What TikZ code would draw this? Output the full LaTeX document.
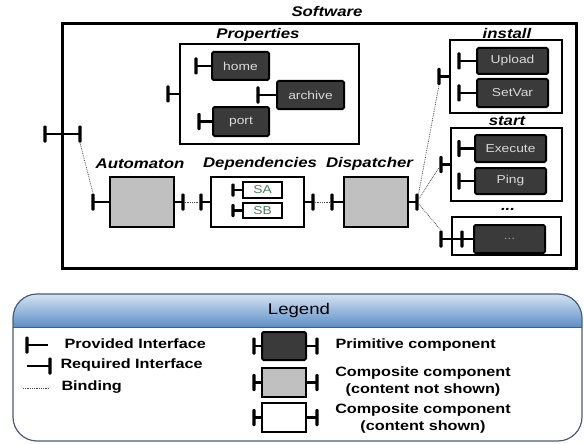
\documentclass[tikz,border=0pt]{standalone}
\usepackage{fontspec}
\setmainfont{Liberation Sans}[FakeStretch=1.2]

\definecolor{primfill}{HTML}{3A3A3A}
\definecolor{compgray}{HTML}{C0C0C0}
\definecolor{reqgreen}{HTML}{4E7D5F}
\definecolor{legline}{HTML}{4B5B78}
\definecolor{legtop}{HTML}{D4E3F2}
\definecolor{legbot}{HTML}{5C8FC6}

\begin{document}
\begin{tikzpicture}[x=1pt, y=-1pt,
    prim/.style={draw=black, fill=primfill, line width=2pt, rounded corners=1.5pt, inner sep=0pt,
      text=white!85!black, font=\fontsize{11.5}{13}\selectfont},
    comp/.style={draw=black, fill=compgray, line width=2.2pt, inner sep=0pt},
    open/.style={draw=black, fill=white, line width=2.2pt, inner sep=0pt},
    reqbox/.style={draw=black, fill=white, line width=1.6pt, inner sep=0pt,
      text=reqgreen, font=\fontsize{11.5}{13}\selectfont},
    bar/.style={fill=black, inner sep=0pt, minimum width=3.2pt, minimum height=17pt, rounded corners=1pt},
    smallbar/.style={bar, minimum height=13pt},
    stem/.style={line width=2.5pt},
    binding/.style={densely dotted, line width=0.8pt, draw=black!70},
    title/.style={font=\fontsize{14}{16}\selectfont\bfseries\itshape},
    legtext/.style={font=\fontsize{13.5}{17}\selectfont\bfseries, align=center}]
    \useasboundingbox (0,0) rectangle (584,444);

    % Software
    \node[open, line width=3pt, minimum width=514pt, minimum height=244pt] (sw) at (319,146) {};
    \node[title] (sw-l) at (327,11) {Software};
    \node[bar] (sw-p) at (45,134) {};
    \node[bar] (sw-r) at (80,134) {};
    \draw[stem] (sw-p.center) -- (sw-r.center);

    % Properties
    \node[open, minimum width=179pt, minimum height=100pt] (prop) at (269.5,94) {};
    \node[title] (prop-l) at (258,35) {Properties};
    \node[bar] (prop-p) at (168,94) {};
    \draw[stem] (prop-p.center) -- (prop.west);
    \node[prim, minimum width=57pt, minimum height=28pt] (home) at (240.5,66) {home};
    \node[bar] (home-p) at (196,66) {};
    \draw[stem] (home-p.center) -- (home.west);
    \node[prim, minimum width=67pt, minimum height=28pt] (arch) at (310.5,95) {archive};
    \node[bar] (arch-p) at (258,95) {};
    \draw[stem] (arch-p.center) -- (arch.west);
    \node[prim, minimum width=56pt, minimum height=29pt] (port) at (241,121.5) {port};
    \node[bar] (port-p) at (199,121.5) {};
    \draw[stem] (port-p.center) -- (port.west);

    % install
    \node[open, minimum width=112pt, minimum height=73pt] (inst) at (506,76.5) {};
    \node[title] (inst-l) at (507,33) {install};
    \node[bar] (inst-p) at (439,76.5) {};
    \draw[stem] (inst-p.center) -- (inst.west);
    \node[prim, minimum width=71pt, minimum height=26pt] (upl) at (512.5,61) {Upload};
    \node[bar] (upl-p) at (459,61) {};
    \draw[stem] (upl-p.center) -- (upl.west);
    \node[prim, minimum width=71pt, minimum height=28pt] (setv) at (512.5,93) {SetVar};
    \node[bar] (setv-p) at (459,93) {};
    \draw[stem] (setv-p.center) -- (setv.west);

    % start
    \node[open, minimum width=111pt, minimum height=73pt] (start) at (506.5,164.5) {};
    \node[title] (start-l) at (507,121) {start};
    \node[bar] (start-p) at (441,164.5) {};
    \draw[stem] (start-p.center) -- (start.west);
    \node[prim, minimum width=71pt, minimum height=27pt] (exec) at (510.5,148.5) {Execute};
    \node[bar] (exec-p) at (459,148.5) {};
    \draw[stem] (exec-p.center) -- (exec.west);
    \node[prim, minimum width=71pt, minimum height=26pt] (ping) at (510.5,181) {Ping};
    \node[bar] (ping-p) at (459,181) {};
    \draw[stem] (ping-p.center) -- (ping.west);

    % further ones
    \node[title] (more-l) at (508,209) {...};
    \node[open, minimum width=109pt, minimum height=38pt] (more) at (506.5,236) {};
    \node[prim, minimum width=71pt, minimum height=28pt, text=white!60!black] (dots) at (509.5,239) {...};
    \node[bar] (more-p) at (441,239) {};
    \node[bar] (dots-p) at (462,239) {};
    \draw[stem] (more-p.center) -- (dots-p.center);
    \draw[stem] (dots-p.center) -- (dots.west);

    % Automaton
    \node[comp, minimum width=64pt, minimum height=50pt] (aut) at (142,202) {};
    \node[title] (aut-l) at (140,164) {Automaton};
    \node[bar] (aut-p) at (93,202) {};
    \node[bar] (aut-r) at (183,202) {};
    \draw[stem] (aut-p.center) -- (aut.west);
    \draw[stem] (aut.east) -- (aut-r.center);

    % Dependencies
    \node[open, minimum width=93pt, minimum height=50pt] (dep) at (257.5,202) {};
    \node[title] (dep-l) at (260,164) {Dependencies};
    \node[bar] (dep-p) at (201,202) {};
    \node[bar] (dep-r) at (313,202) {};
    \draw[stem] (dep-p.center) -- (dep.west);
    \draw[stem] (dep.east) -- (dep-r.center);
    \node[reqbox, minimum width=39pt, minimum height=16pt] (sa) at (262.5,190) {SA};
    \node[smallbar] (sa-p) at (233,190) {};
    \draw[stem] (sa-p.center) -- (sa.west);
    \node[reqbox, minimum width=39pt, minimum height=15pt] (sb) at (262.5,210.5) {SB};
    \node[smallbar] (sb-p) at (233,210.5) {};
    \draw[stem] (sb-p.center) -- (sb.west);

    % Dispatcher
    \node[comp, minimum width=64pt, minimum height=50pt] (disp) at (376,202) {};
    \node[title] (disp-l) at (369.5,164) {Dispatcher};
    \node[bar] (disp-p) at (332,202) {};
    \node[bar] (disp-r) at (417,202) {};
    \draw[stem] (disp-p.center) -- (disp.west);
    \draw[stem] (disp.east) -- (disp-r.center);

    % Bindings
    \draw[binding] (sw-r.south) -- (aut-p.north);
    \draw[binding] (aut-r) -- (dep-p);
    \draw[binding] (dep-r) -- (disp-p);
    \draw[binding] (disp-r) -- (inst-p.south);
    \draw[binding] (disp-r) -- (start-p);
    \draw[binding] (disp-r) -- (more-p.north);

    % Legend
    \begin{scope}
      \clip[rounded corners=24pt] (13,294) rectangle (582,441);
      \shade[top color=legtop, bottom color=legbot] (13,294) rectangle (582,327);
    \end{scope}
    \draw[legline, line width=1.2pt, rounded corners=24pt] (13,294) rectangle (582,441);
    \draw[legline, line width=0.8pt] (13,327) -- (582,327);
    \node[font=\fontsize{15.5}{17}\selectfont] (leg) at (299,310) {Legend};

    \node[bar] (lp) at (27,345) {};
    \coordinate (lp-e) at (48,345);
    \draw[stem] (lp.center) -- (lp-e);
    \node[legtext, anchor=west] (lp-t) at (61,344) {Provided Interface};
    \coordinate (lr-s) at (27,366);
    \node[bar] (lr) at (50,366) {};
    \draw[stem] (lr-s) -- (lr.center);
    \node[legtext, anchor=west] (lr-t) at (57,365) {Required Interface};
    \coordinate (lb-s) at (23,388);
    \coordinate (lb-e) at (50,388);
    \draw[binding] (lb-s) -- (lb-e);
    \node[legtext, anchor=west] (lb-t) at (58,387) {Binding};

    \node[prim, minimum width=44pt, minimum height=28pt] (lprim) at (284,346) {};
    \node[bar] (lprim-p) at (254,346) {};
    \node[bar] (lprim-r) at (317,346) {};
    \draw[stem] (lprim-p.center) -- (lprim.west);
    \draw[stem] (lprim.east) -- (lprim-r.center);
    \node[legtext, anchor=west] (lprim-t) at (332,345) {Primitive component};

    \node[comp, minimum width=44pt, minimum height=29pt] (lcomp) at (284,382.5) {};
    \node[bar] (lcomp-p) at (254,382.5) {};
    \node[bar] (lcomp-r) at (317,382.5) {};
    \draw[stem] (lcomp-p.center) -- (lcomp.west);
    \draw[stem] (lcomp.east) -- (lcomp-r.center);
    \node[legtext] (lcomp-t) at (423,381.5) {Composite component\\(content not shown)};

    \node[open, minimum width=44pt, minimum height=29pt] (lopen) at (284,417.5) {};
    \node[bar] (lopen-p) at (254,417.5) {};
    \node[bar] (lopen-r) at (317,417.5) {};
    \draw[stem] (lopen-p.center) -- (lopen.west);
    \draw[stem] (lopen.east) -- (lopen-r.center);
    \node[legtext] (lopen-t) at (423,418.5) {Composite component\\(content shown)};
  \end{tikzpicture}
\end{document}
